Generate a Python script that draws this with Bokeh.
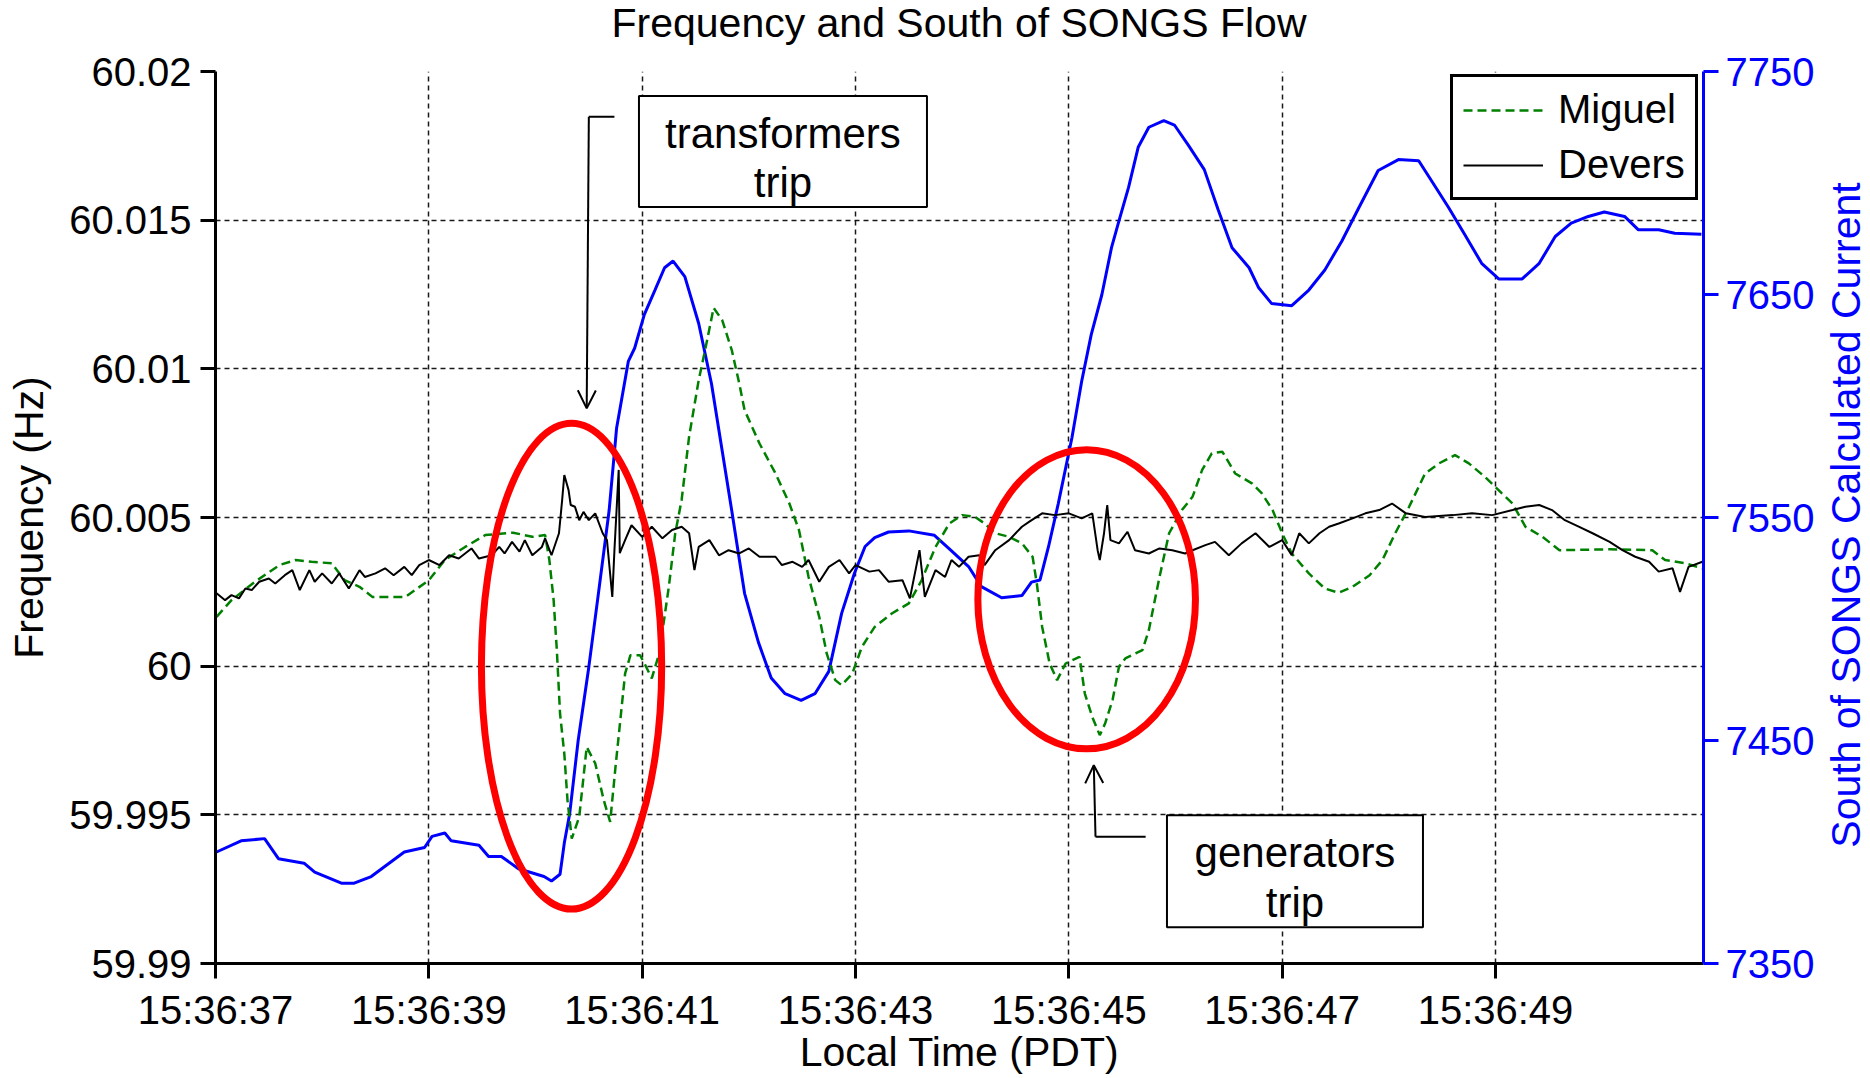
from bokeh.plotting import figure
from bokeh.models import Range1d, LinearAxis, FixedTicker, Arrow, OpenHead, Div
from bokeh.layouts import column, row
from bokeh.embed import file_html
from bokeh.resources import INLINE
from bokeh.core.properties import value

FONT = "Liberation Sans"

# ---------------- texts ----------------
title_text = "Frequency and South of SONGS Flow"
right_axis_title = "South of SONGS Calculated Current"

# ---------------- data (time in seconds after 15:36:37) ----------------
x_tick_values = [0, 2, 4, 6, 8, 10, 12]
x_tick_labels = ["15:36:37", "15:36:39", "15:36:41", "15:36:43", "15:36:45", "15:36:47", "15:36:49"]
y_tick_values = [59.99, 59.995, 60.0, 60.005, 60.01, 60.015, 60.02]
y_tick_labels = ["59.99", "59.995", "60", "60.005", "60.01", "60.015", "60.02"]
cur_tick_values = [7350, 7450, 7550, 7650, 7750]

t_current = [0.01, 0.24, 0.46, 0.59, 0.83, 0.93, 1.18, 1.30, 1.46, 1.77, 1.96, 2.03, 2.15, 2.21,
             2.47, 2.56, 2.68, 2.84, 3.08, 3.15, 3.23, 3.27, 3.32, 3.40, 3.50, 3.59, 3.69, 3.76,
             3.87, 3.93, 4.02, 4.12, 4.21, 4.29, 4.40, 4.53, 4.65, 4.74, 4.84, 4.96, 5.09, 5.21,
             5.34, 5.49, 5.62, 5.75, 5.87, 5.99, 6.09, 6.18, 6.31, 6.50, 6.74, 6.90, 7.06, 7.18,
             7.37, 7.56, 7.65, 7.73, 7.81, 7.90, 8.03, 8.12, 8.21, 8.31, 8.40, 8.47, 8.56, 8.65,
             8.75, 8.89, 8.99, 9.12, 9.27, 9.40, 9.53, 9.69, 9.78, 9.90, 10.09, 10.25, 10.40,
             10.56, 10.72, 10.90, 11.09, 11.28, 11.40, 11.56, 11.71, 11.87, 12.03, 12.25, 12.41,
             12.56, 12.71, 12.87, 13.02, 13.21, 13.34, 13.53, 13.68, 13.93]
current = [7400, 7405, 7406, 7397, 7395, 7391, 7386, 7386, 7389, 7400, 7402, 7407, 7408.5, 7405,
           7403, 7398, 7398, 7392.5, 7389, 7387, 7390, 7404, 7417, 7450, 7483, 7516, 7553, 7590,
           7620, 7626, 7641, 7652, 7662, 7665, 7658, 7637, 7610, 7583, 7553, 7516, 7494, 7478,
           7471, 7468, 7471, 7481, 7507, 7525, 7537, 7541, 7543.5, 7544, 7542, 7535, 7528, 7519,
           7514, 7515, 7521, 7522, 7537, 7556, 7586, 7611, 7632, 7650, 7671, 7683, 7698, 7716,
           7725, 7728, 7726, 7717, 7706, 7688, 7671, 7662, 7653, 7646, 7645, 7652, 7661,
           7674, 7689, 7705.6, 7710.5, 7710, 7701, 7689, 7677, 7664, 7657, 7657, 7664,
           7676, 7682, 7685, 7687, 7685, 7679, 7679, 7677.5, 7677]

t_miguel = [0.01, 0.15, 0.37, 0.60, 0.75, 0.90, 1.09, 1.21, 1.35, 1.47, 1.78, 2.00, 2.15, 2.34,
            2.53, 2.79, 2.97, 3.09, 3.13, 3.17, 3.20, 3.23, 3.27, 3.30, 3.34, 3.41, 3.48, 3.56,
            3.64, 3.70, 3.75, 3.84, 3.89, 3.98, 4.03, 4.09, 4.16, 4.25, 4.31, 4.37, 4.44, 4.53,
            4.59, 4.67, 4.75, 4.84, 4.91, 4.96, 5.10, 5.25, 5.38, 5.47, 5.56, 5.66, 5.73, 5.81,
            5.87, 5.97, 6.06, 6.18, 6.34, 6.50, 6.62, 6.75, 6.88, 7.00, 7.12, 7.21, 7.31, 7.44,
            7.56, 7.66, 7.70, 7.75, 7.82, 7.89, 7.97, 8.03, 8.10, 8.15, 8.22, 8.29, 8.34, 8.41,
            8.47, 8.53, 8.69, 8.75, 8.85, 8.94, 9.06, 9.16, 9.25, 9.34, 9.44, 9.56, 9.72, 9.81,
            9.91, 10.00, 10.09, 10.25, 10.40, 10.53, 10.66, 10.82, 10.94, 11.06, 11.19, 11.34,
            11.47, 11.62, 11.75, 11.90, 12.06, 12.16, 12.28, 12.44, 12.60, 13.07, 13.47, 13.59,
            13.78, 13.94]
miguel = [60.00166, 60.00222, 60.00284, 60.00340, 60.00357, 60.00351, 60.00346, 60.00289,
          60.00267, 60.00233, 60.00233, 60.00289, 60.00357, 60.00401, 60.00441, 60.00449,
          60.00435, 60.00441, 60.00357, 60.00222, 60.00054, 59.99841, 59.99706, 59.99549,
          59.99420, 59.99493, 59.99728, 59.99673, 59.99549, 59.99476, 59.99661, 59.99975,
          60.00037, 60.00037, 60.00003, 59.99959, 60.00043, 60.00267, 60.00447, 60.00559,
          60.00772, 60.00962, 60.01063, 60.01205, 60.01164, 60.01063, 60.00951, 60.00861,
          60.00749, 60.00648, 60.00547, 60.00458, 60.00300, 60.00166, 60.00043, 59.99953,
          59.99936, 59.99975, 60.00065, 60.00132, 60.00177, 60.00211, 60.00289, 60.00401,
          60.00480, 60.00508, 60.00502, 60.00480, 60.00447, 60.00435, 60.00413, 60.00368,
          60.00278, 60.00132, 60.00009, 59.99953, 60.00009, 60.00020, 60.00031, 59.99908,
          59.99829, 59.99768, 59.99807, 59.99886, 59.99998, 60.00026, 60.00054, 60.00121,
          60.00300, 60.00447, 60.00525, 60.00570, 60.00660, 60.00716, 60.00721, 60.00648,
          60.00614, 60.00581, 60.00525, 60.00447, 60.00379, 60.00312, 60.00261, 60.00247,
          60.00267, 60.00306, 60.00357, 60.00447, 60.00536, 60.00648, 60.00682, 60.00710,
          60.00682, 60.00637, 60.00581, 60.00547, 60.00469, 60.00435, 60.00390, 60.00393,
          60.00390, 60.00357, 60.00346, 60.00329]

t_devers = [0.01, 0.09, 0.15, 0.22, 0.28, 0.34, 0.41, 0.50, 0.56, 0.65, 0.72, 0.79, 0.88, 0.93,
            1.00, 1.09, 1.16, 1.25, 1.35, 1.40, 1.50, 1.59, 1.67, 1.77, 1.84, 1.91, 2.00, 2.10,
            2.19, 2.28, 2.40, 2.47, 2.59, 2.66, 2.71, 2.78, 2.85, 2.90, 2.97, 3.06, 3.09, 3.15,
            3.22, 3.25, 3.27, 3.31, 3.33, 3.37, 3.41, 3.45, 3.50, 3.56, 3.63, 3.67, 3.72, 3.74,
            3.78, 3.79, 3.84, 3.90, 4.00, 4.09, 4.19, 4.28, 4.37, 4.44, 4.49, 4.53, 4.63, 4.72,
            4.81, 4.91, 5.00, 5.10, 5.25, 5.31, 5.41, 5.50, 5.56, 5.66, 5.75, 5.85, 5.94, 6.00,
            6.13, 6.22, 6.31, 6.44, 6.51, 6.60, 6.65, 6.75, 6.84, 6.90, 6.97, 7.06, 7.16, 7.21,
            7.31, 7.44, 7.56, 7.63, 7.75, 7.87, 8.00, 8.12, 8.22, 8.27, 8.29, 8.33, 8.36, 8.39,
            8.47, 8.55, 8.62, 8.75, 8.85, 8.97, 9.09, 9.16, 9.28, 9.37, 9.50, 9.62, 9.75, 9.88,
            10.00, 10.09, 10.16, 10.25, 10.35, 10.44, 10.53, 10.66, 10.78, 10.91, 11.03, 11.16,
            11.34, 11.60, 11.78, 11.97, 12.16, 12.28, 12.41, 12.53, 12.65, 12.78, 12.91, 13.07,
            13.19, 13.31, 13.44, 13.53, 13.66, 13.73, 13.81, 13.94]
devers = [60.00245, 60.00222, 60.00239, 60.00228, 60.00261, 60.00256, 60.00284, 60.00295,
          60.00278, 60.00306, 60.00323, 60.00256, 60.00323, 60.00284, 60.00312, 60.00278,
          60.00312, 60.00261, 60.00323, 60.00300, 60.00312, 60.00329, 60.00306, 60.00334,
          60.00306, 60.00340, 60.00357, 60.00340, 60.00373, 60.00362, 60.00396, 60.00362,
          60.00373, 60.00401, 60.00379, 60.00418, 60.00385, 60.00424, 60.00373, 60.00401,
          60.00430, 60.00373, 60.00447, 60.00559, 60.00643, 60.00592, 60.00542, 60.00536,
          60.00491, 60.00519, 60.00491, 60.00514, 60.00447, 60.00424, 60.00233, 60.00390,
          60.00660, 60.00380, 60.00424, 60.00474, 60.00435, 60.00469, 60.00430, 60.00458,
          60.00469, 60.00447, 60.00323, 60.00401, 60.00424, 60.00373, 60.00390, 60.00379,
          60.00396, 60.00368, 60.00368, 60.00340, 60.00351, 60.00334, 60.00357, 60.00284,
          60.00334, 60.00357, 60.00312, 60.00340, 60.00318, 60.00323, 60.00284, 60.00289,
          60.00228, 60.00390, 60.00233, 60.00323, 60.00300, 60.00357, 60.00334, 60.00368,
          60.00373, 60.00340, 60.00390, 60.00424, 60.00469, 60.00486, 60.00514, 60.00508,
          60.00514, 60.00497, 60.00514, 60.00390, 60.00357, 60.00447, 60.00542, 60.00424,
          60.00413, 60.00452, 60.00390, 60.00379, 60.00396, 60.00390, 60.00379, 60.00390,
          60.00407, 60.00418, 60.00373, 60.00413, 60.00447, 60.00401, 60.00424, 60.00373,
          60.00447, 60.00413, 60.00447, 60.00469, 60.00480, 60.00497, 60.00514, 60.00525,
          60.00547, 60.00514, 60.00502, 60.00508, 60.00514, 60.00508, 60.00525, 60.00536,
          60.00542, 60.00525, 60.00491, 60.00469, 60.00447, 60.00418, 60.00390, 60.00368,
          60.00351, 60.00318, 60.00329, 60.00250, 60.00334, 60.00351]

# ---------------- annotation geometry (data units) ----------------
ellipse_x = [3.338, 8.167]
ellipse_y = [60.0, 60.00225]
ellipse_w = [1.69, 2.04]
ellipse_h = [0.01635, 0.01006]

box_left = [3.97, 8.92]
box_right = [6.67, 11.32]
box_top = [60.01918, 59.99499]
box_bottom = [60.01544, 59.99122]

note_x = [5.32, 5.32, 10.12, 10.12]
note_y = [60.01793, 60.01627, 59.99373, 59.99205]
note_text = ["transformers", "trip", "generators", "trip"]

leader_x0 = [3.74, 8.72]
leader_x1 = [3.50, 8.25]
leader_y = [60.01848, 59.99426]
arrow_tip_x = [3.48, 8.234]
arrow_tip_y = [60.00867, 59.99667]

# ---------------- layout sizes (px) ----------------
TOTAL_W, TOTAL_H = 1870, 1078
TITLE_H = 46
SIDE_W = 47
FIG_W = TOTAL_W - SIDE_W
FIG_H = TOTAL_H - TITLE_H

# ---------------- figure ----------------
p = figure(width=FIG_W, height=FIG_H, output_backend="svg", toolbar_location=None,
           x_range=Range1d(0, 13.95), y_range=Range1d(59.99, 60.02),
           min_border_left=215, min_border_right=FIG_W - 1703,
           min_border_top=71 - TITLE_H, min_border_bottom=115)
p.extra_y_ranges = {"cur": Range1d(7350, 7750)}
p.outline_line_color = None
p.background_fill_color = "white"
p.border_fill_color = "white"

xa = p.xaxis[0]
xa.ticker = FixedTicker(ticks=x_tick_values)
xa.major_label_overrides = dict(zip(x_tick_values, x_tick_labels))
xa.axis_label = "Local Time (PDT)"
ya = p.yaxis[0]
ya.ticker = FixedTicker(ticks=y_tick_values)
ya.major_label_overrides = dict(zip(y_tick_values, y_tick_labels))
ya.axis_label = "Frequency (Hz)"

ra = LinearAxis(y_range_name="cur", ticker=FixedTicker(ticks=cur_tick_values))
p.add_layout(ra, "right")

for ax, col in ((xa, "black"), (ya, "black"), (ra, "blue")):
    ax.axis_line_color = col
    ax.axis_line_width = 3
    ax.major_tick_line_color = col
    ax.major_tick_line_width = 3
    ax.major_tick_out = 15
    ax.major_tick_in = 0
    ax.minor_tick_line_color = None
    ax.major_label_text_font = FONT
    ax.major_label_text_font_size = "40px"
    ax.major_label_text_color = col
    ax.axis_label_text_font = FONT
    ax.axis_label_text_font_size = "41px"
    ax.axis_label_text_font_style = "normal"
    ax.axis_label_text_color = col

xa.major_label_standoff = 9
xa.axis_label_standoff = -6
ya.major_label_standoff = 9
ya.axis_label_standoff = 14
ra.major_label_standoff = 7

for g, tk in ((p.xgrid[0], x_tick_values), (p.ygrid[0], y_tick_values)):
    g.ticker = FixedTicker(ticks=tk)
    g.grid_line_color = "black"
    g.grid_line_width = 1.5
    g.grid_line_dash = "5 4"
    g.grid_line_alpha = 0.9

# series
p.line(t_current, current, y_range_name="cur", line_color="blue", line_width=3)
p.line(t_miguel, miguel, line_color="#008000", line_width=2.5, line_dash="9 5",
       legend_label="Miguel")
p.line(t_devers, devers, line_color="black", line_width=2, legend_label="Devers")

# annotation boxes, texts, leaders, arrows
p.quad(left=box_left, right=box_right, top=box_top, bottom=box_bottom,
       fill_color="white", line_color="black", line_width=2)
p.text(x=note_x, y=note_y, text=note_text, text_font=value(FONT), text_font_size="42px",
       text_align="center", text_baseline="alphabetic", text_color="black")
p.segment(x0=leader_x0, y0=leader_y, x1=leader_x1, y1=leader_y, line_color="black", line_width=2)
for i in range(2):
    p.add_layout(Arrow(end=OpenHead(size=18, line_width=2, line_color="black"),
                       x_start=leader_x1[i], y_start=leader_y[i],
                       x_end=arrow_tip_x[i], y_end=arrow_tip_y[i],
                       line_color="black", line_width=2))

p.ellipse(x=ellipse_x, y=ellipse_y, width=ellipse_w, height=ellipse_h,
          fill_color=None, line_color="red", line_width=7)

leg = p.legend[0]
leg.location = (1235, 763)
leg.label_text_font = FONT
leg.label_text_font_size = "40px"
leg.label_text_color = "black"
leg.glyph_width = 80
leg.glyph_height = 20
leg.label_standoff = 15
leg.padding = 10
leg.spacing = 10
leg.margin = 0
leg.border_line_color = "black"
leg.border_line_width = 3
leg.border_line_alpha = 1.0
leg.background_fill_color = "white"
leg.background_fill_alpha = 1.0

# ---------------- title strip and right-hand axis title ----------------
title_div = Div(
    text=('<svg xmlns="http://www.w3.org/2000/svg" width="%d" height="%d" style="display:block">'
          '<text x="959" y="37" text-anchor="middle" font-family="%s" font-size="41px" '
          'fill="black">%s</text></svg>') % (TOTAL_W, TITLE_H, FONT, title_text),
    width=TOTAL_W, height=TITLE_H, margin=(0, 0, 0, 0))

side_div = Div(
    text=('<svg xmlns="http://www.w3.org/2000/svg" width="%d" height="%d" style="display:block">'
          '<text x="37" y="%d" transform="rotate(-90 37 %d)" text-anchor="middle" '
          'font-family="%s" font-size="41px" fill="blue">%s</text></svg>')
         % (SIDE_W, FIG_H, 515 - TITLE_H, 515 - TITLE_H, FONT, right_axis_title),
    width=SIDE_W, height=FIG_H, margin=(0, 0, 0, 0))

layout = column(title_div, row(p, side_div, spacing=0), spacing=0)

open("out.html", "w").write(file_html(layout, INLINE))
